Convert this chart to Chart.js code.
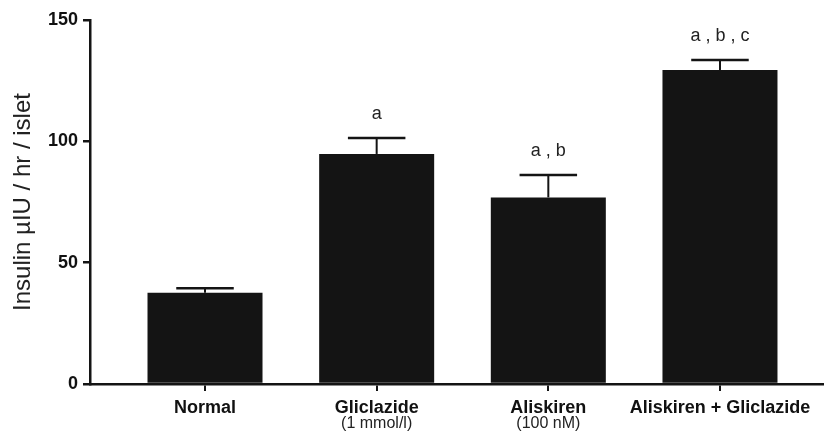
<!DOCTYPE html>
<html>
<head>
<meta charset="utf-8">
<script src="https://cdn.jsdelivr.net/npm/chart.js@4.4.1/dist/chart.umd.min.js"></script>
<style>
  html, body { margin: 0; padding: 0; background: #fff; }
  #wrap { width: 824px; height: 436px; position: relative; }
</style>
</head>
<body>
<div id="wrap"><canvas id="c" width="824" height="436"></canvas></div>
<script>
// ---- data ----
const categories = ['Normal', 'Gliclazide', 'Aliskiren', 'Aliskiren + Gliclazide'];
const subLabels = ['', '(1 mmol/l)', '(100 nM)', ''];
const insulinMeans = [37.6, 94.8, 76.9, 129.4];
const insulinErrors = [1.9, 6.6, 9.2, 4.1];
const sigLabels = ['', 'a', 'a , b', 'a , b , c'];
const yTicks = [0, 50, 100, 150];
const yTitle = 'Insulin \u00b5IU / hr / islet';

const FONT = '"Liberation Sans", Arial, Helvetica, sans-serif';
const INK = '#141414';

const points = insulinMeans.map((v, i) => ({ x: i + 1, y: v }));

const errorBarPlugin = {
  id: 'errorBars',
  afterDatasetsDraw(chart) {
    const { ctx } = chart;
    const meta = chart.getDatasetMeta(0);
    const ys = chart.scales.y;
    ctx.save();
    ctx.strokeStyle = INK;
    meta.data.forEach((bar, i) => {
      const top = ys.getPixelForValue(insulinMeans[i] + insulinErrors[i]);
      const half = bar.width / 4;
      ctx.lineWidth = 2;
      ctx.beginPath();
      ctx.moveTo(bar.x, bar.y);
      ctx.lineTo(bar.x, top);
      ctx.stroke();
      ctx.lineWidth = 2.5;
      ctx.beginPath();
      ctx.moveTo(bar.x - half, top);
      ctx.lineTo(bar.x + half, top);
      ctx.stroke();
      if (sigLabels[i]) {
        ctx.fillStyle = '#222';
        ctx.font = '18px ' + FONT;
        ctx.textAlign = 'center';
        ctx.textBaseline = 'alphabetic';
        ctx.fillText(sigLabels[i], bar.x, top - 19);
      }
    });
    // sub labels under x ticks
    const xs = chart.scales.x;
    ctx.fillStyle = '#222';
    ctx.font = '16px ' + FONT;
    ctx.textAlign = 'center';
    ctx.textBaseline = 'middle';
    subLabels.forEach((t, i) => {
      if (t) ctx.fillText(t, xs.getPixelForValue(i + 1), 424);
    });
    ctx.restore();
  }
};

new Chart(document.getElementById('c'), {
  type: 'bar',
  data: {
    datasets: [{
      data: points,
      backgroundColor: INK,
      borderWidth: 0,
      categoryPercentage: 1,
      barPercentage: 0.67
    }]
  },
  options: {
    responsive: false,
    animation: false,
    layout: { padding: { top: 20, left: 0, right: 0, bottom: 0 } },
    plugins: { legend: { display: false }, tooltip: { enabled: false } },
    scales: {
      x: {
        type: 'linear',
        offset: false,
        min: 0.33,
        max: 4.606,
        afterBuildTicks(scale) {
          scale.ticks = categories.map((_, i) => ({ value: i + 1 }));
        },
        afterFit(scale) { scale.height = 52; },
        ticks: {
          autoSkip: false,
          maxRotation: 0,
          padding: 6,
          color: '#111',
          font: { family: FONT, size: 18, weight: 'bold' },
          callback: (v) => categories[v - 1] || ''
        },
        grid: {
          display: true,
          offset: false,
          drawOnChartArea: false,
          drawTicks: true,
          tickLength: 7,
          color: INK,
          lineWidth: 2
        },
        border: { display: true, color: INK, width: 2.5 }
      },
      y: {
        min: 0,
        max: 150,
        afterBuildTicks(scale) {
          scale.ticks = yTicks.map(v => ({ value: v }));
        },
        afterFit(scale) { scale.width = 90; },
        ticks: {
          padding: 5,
          color: '#111',
          font: { family: FONT, size: 18, weight: 'bold' }
        },
        grid: {
          display: true,
          drawOnChartArea: false,
          drawTicks: true,
          tickLength: 7,
          color: INK,
          lineWidth: 2.5
        },
        border: { display: true, color: INK, width: 2.5 },
        title: {
          display: true,
          text: yTitle,
          color: '#222',
          padding: { top: 9, bottom: 0 },
          font: { family: FONT, size: 24, weight: 'normal' }
        }
      }
    }
  },
  plugins: [errorBarPlugin]
});
</script>
</body>
</html>
